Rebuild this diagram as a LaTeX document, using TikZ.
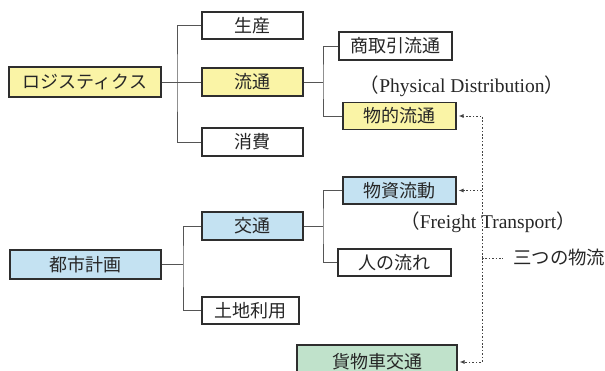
\documentclass[tikz,border=0pt]{standalone}
\usepackage{fontspec}
\setmainfont{Liberation Serif}
\newfontfamily\jp{Noto Sans CJK JP}
\usetikzlibrary{arrows.meta}
\definecolor{yel}{HTML}{FAF4A6}
\definecolor{blu}{HTML}{C4E2F2}
\definecolor{grn}{HTML}{C0E2CB}
\definecolor{edge}{HTML}{2E2E2E}
\definecolor{conn}{HTML}{555555}
\definecolor{dots}{HTML}{444444}
\tikzset{
  box/.style={draw=edge, line width=1.1pt, rectangle, inner sep=0pt, font=\jp\fontsize{18}{20}\selectfont, text=black!85},
  yb/.style={box, fill=yel},
  bb/.style={box, fill=blu},
  gb/.style={box, fill=grn},
  wb/.style={box, fill=white},
  conline/.style={draw=conn, line width=0.9pt},
  dotline/.style={draw=dots, line width=0.9pt, dash pattern=on 1.6pt off 1.8pt},
  dotarrow/.style={dotline, -{Latex[length=5pt,width=4pt]}},
  lbl/.style={inner sep=0pt, font=\fontsize{19.5}{22}\selectfont, text=black!85}
}
\begin{document}
\begin{tikzpicture}[x=1pt,y=-1pt]
\useasboundingbox (0,0) rectangle (605,371);
\clip (0,0) rectangle (605,371);
% top tree
\node[yb, minimum width=152pt, minimum height=30pt] (logi) at (85,82) {ロジスティクス};
\node[wb, minimum width=101pt, minimum height=27pt] (seisan) at (252.5,25.5) {生産};
\node[yb, minimum width=101pt, minimum height=28pt] (ryutsu) at (252.5,82) {流通};
\node[wb, minimum width=101pt, minimum height=28pt] (shohi) at (252.5,142) {消費};
\node[wb, minimum width=113pt, minimum height=28pt] (shotori) at (395.5,46) {商取引流通};
\node[yb, minimum width=113pt, minimum height=27pt] (butteki) at (399.5,116) {物的流通};
% bottom tree
\node[bb, minimum width=151pt, minimum height=29pt] (toshi) at (85.5,264.5) {都市計画};
\node[bb, minimum width=101pt, minimum height=28pt] (kotsu) at (252.5,226) {交通};
\node[wb, minimum width=97pt, minimum height=27pt] (tochi) at (250.5,310.5) {土地利用};
\node[bb, minimum width=113pt, minimum height=27pt] (busshi) at (399.5,190.5) {物資流動};
\node[wb, minimum width=113pt, minimum height=27pt] (hito) at (394.5,262.5) {人の流れ};
\node[gb, minimum width=160pt, minimum height=34pt] (kamotsu) at (377,362) {貨物車交通};
% labels
\node[lbl] (pd) at (462,86) {{\jp （}Physical Distribution{\jp ）}};
\node[lbl] (ft) at (488,222) {{\jp （}Freight Transport{\jp ）}};
\node[lbl, anchor=west, font=\jp\fontsize{18.4}{20}\selectfont] (mittsu) at (513,258) {三つの物流};
% trunk coordinates
\coordinate (t1) at (177,82);
\coordinate (t2) at (323,82);
\coordinate (t3) at (183,264.5);
\coordinate (t4) at (323,226);
\coordinate (dv) at (482,258);
% connectors
\draw[conline] (logi.east) -- (ryutsu.west);
\draw[conline] (seisan.west) -| (t1) |- (shohi.west);
\draw[conline] (ryutsu.east) -- (t2);
\draw[conline] (shotori.west) -| (t2) |- (butteki.west);
\draw[conline] (toshi.east) -- (t3);
\draw[conline] (kotsu.west) -| (t3) |- (tochi.west);
\draw[conline] (kotsu.east) -- (t4);
\draw[conline] (busshi.west) -| (t4) |- (hito.west);
% dotted
\draw[dotarrow] (dv) |- ([xshift=2pt]butteki.east);
\draw[dotarrow] (dv) |- ([xshift=2pt]busshi.east);
\draw[dotarrow] (dv) |- ([xshift=2pt]kamotsu.east);
\draw[dotline] (dv) -- ([xshift=-10pt]mittsu.west);
\end{tikzpicture}
\end{document}
